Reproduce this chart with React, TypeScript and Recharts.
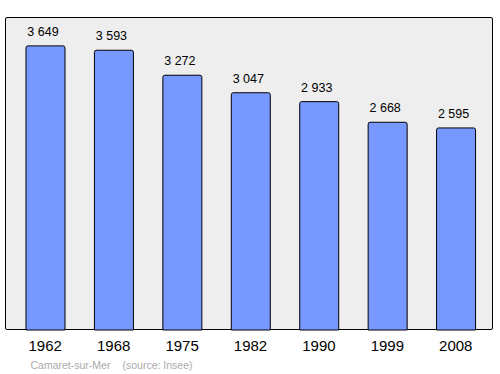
import React from 'react'
import { BarChart, Bar, XAxis, YAxis, CartesianGrid, LabelList } from 'recharts'

const years = ['1962', '1968', '1975', '1982', '1990', '1999', '2008']
const population = [3649, 3593, 3272, 3047, 2933, 2668, 2595]

const data = years.map((year, i) => ({ year, value: population[i] }))

// french style thousands with a no-break space: "3 649"
const fmt = (v: any) => String(v).replace(/\B(?=(\d{3})+(?!\d))/g, '\u00a0')

const font = '"Liberation Sans", Arial, sans-serif'

export default function App() {
  return (
    <div style={{ position: 'absolute', left: 0, top: 0, width: 500, height: 374, background: '#fff', fontFamily: font }}>
      {/* plot frame */}
      <div
        style={{
          position: 'absolute',
          left: 5,
          top: 17,
          width: 488,
          height: 313,
          boxSizing: 'border-box',
          background: '#eeeeee',
          border: '1px solid #000',
          borderRadius: 2
        }}
      />
      <div style={{ position: 'absolute', left: 0, top: 0 }}>
        <BarChart
          width={500}
          height={374}
          data={data}
          margin={{ top: 17, right: 7, left: 5, bottom: 14 }}
        >
          <CartesianGrid horizontal={false} vertical={false} />
          <XAxis
            dataKey="year"
            axisLine={false}
            tickLine={false}
            tickSize={0}
            tickMargin={10}
            height={30}
            padding={{ left: 6, right: 3 }}
            interval={0}
            tick={{ fill: '#000', fontSize: 15, fontFamily: font }}
          />
          <YAxis hide domain={[0, 4020]} />
          <Bar
            dataKey="value"
            fill="#7799ff"
            stroke="#000"
            strokeWidth={1}
            barSize={39}
            radius={[2, 2, 0, 0]}
            isAnimationActive={false}
          >
            <LabelList
              dataKey="value"
              position="top"
              offset={10}
              dx={-2.5}
              formatter={fmt}
              style={{ fill: '#000', fontSize: 12.5, fontFamily: font }}
            />
          </Bar>
        </BarChart>
      </div>
      <div style={{ position: 'absolute', left: 30.5, top: 359, fontSize: 10.5, color: '#aaaaaa', whiteSpace: 'nowrap' }}>
        Camaret-sur-Mer
      </div>
      <div style={{ position: 'absolute', left: 122.5, top: 359, fontSize: 10.5, color: '#aaaaaa', whiteSpace: 'nowrap' }}>
        (source: Insee)
      </div>
    </div>
  )
}
